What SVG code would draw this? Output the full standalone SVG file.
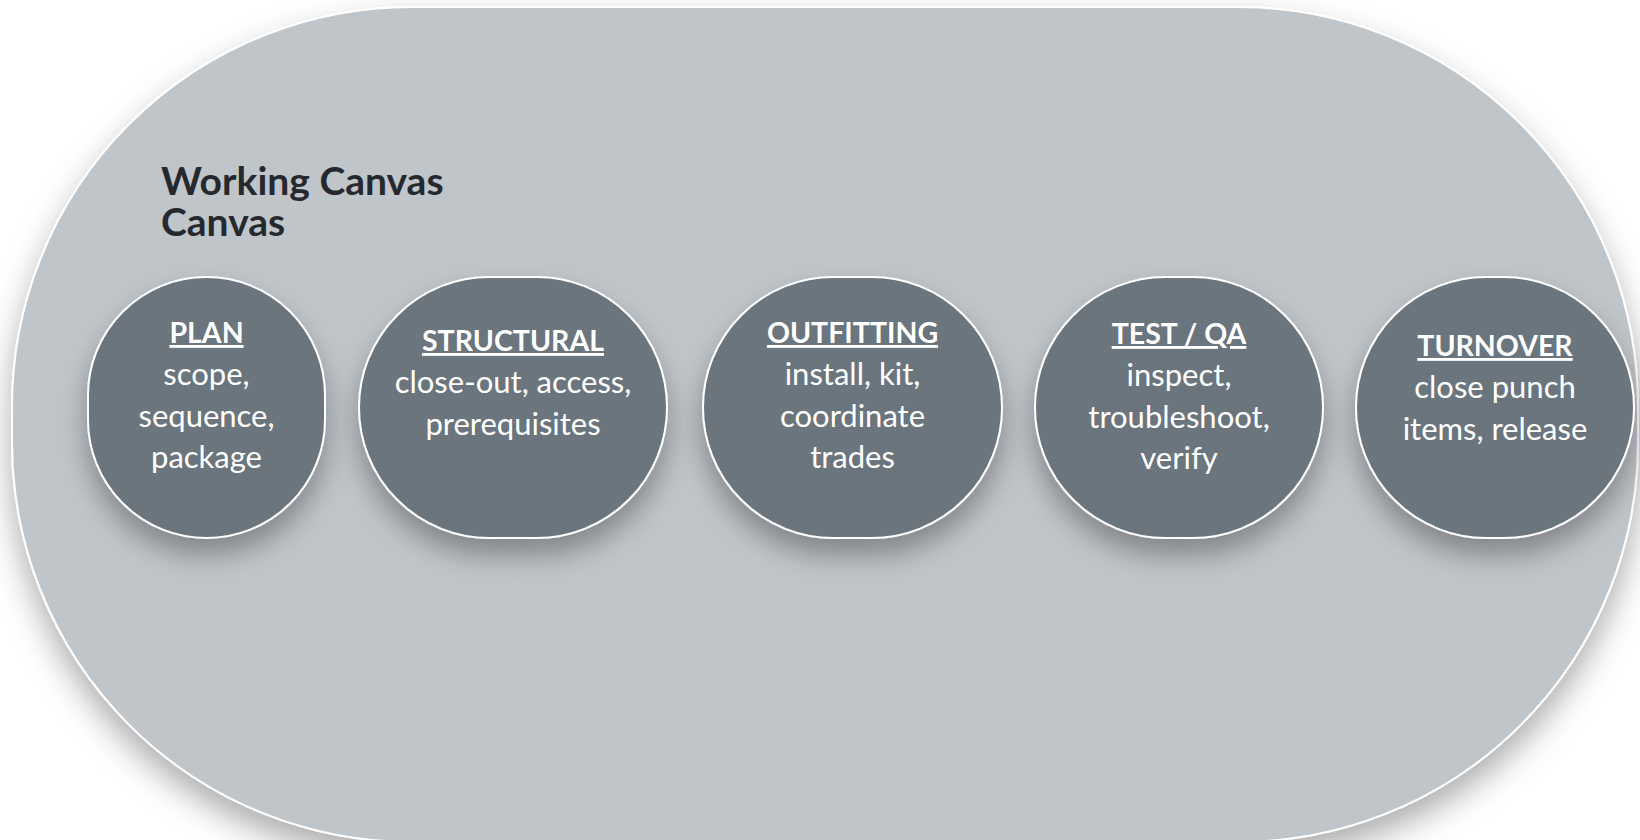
<svg xmlns="http://www.w3.org/2000/svg" width="1640" height="840" viewBox="0 0 1640 840">
  <defs>
    <filter id="bgShadow" x="-10%" y="-10%" width="120%" height="125%">
      <feDropShadow dx="0" dy="16" stdDeviation="16" flood-color="#000" flood-opacity="0.32"/>
    </filter>
    <filter id="nodeShadow" x="-25%" y="-25%" width="150%" height="160%">
      <feDropShadow dx="0" dy="16" stdDeviation="14" flood-color="#000" flood-opacity="0.32"/>
    </filter>
  </defs>
  <style>
    .canvas { fill: #c0c5ca; stroke: #ffffff; stroke-width: 2; }
    .node { fill: #6b747d; stroke: #ffffff; stroke-width: 2; }
    .title { font-family: "Lato", "Liberation Sans", sans-serif; font-weight: 700; font-size: 39px; fill: #25292d; }
    .head { font-family: "Lato", "Liberation Sans", sans-serif; font-weight: 700; font-size: 28.5px; fill: #ffffff; text-anchor: middle; text-decoration: underline; }
    .body { font-family: "Lato", "Liberation Sans", sans-serif; font-weight: 400; font-size: 31px; fill: #ffffff; text-anchor: middle; }
  </style>
  <rect width="1640" height="840" fill="#ffffff"/>
  <g id="canvas">
    <rect class="canvas" x="12" y="7" width="1626" height="835" rx="400" ry="400" filter="url(#bgShadow)"/>
    <text class="title" x="161" y="195">Working Canvas</text>
    <text class="title" x="161" y="236">Canvas</text>
  </g>
  <g id="connectors"></g>
  <g id="node-plan">
    <rect class="node" x="88" y="277" width="237" height="261" rx="118.5" ry="118.5" filter="url(#nodeShadow)"/>
    <text class="head" x="206.5" y="343">PLAN</text>
    <text class="body" x="206.5" y="385">scope,</text>
    <text class="body" x="206.5" y="427">sequence,</text>
    <text class="body" x="206.5" y="468">package</text>
  </g>
  <g id="node-structural">
    <rect class="node" x="359" y="277" width="308" height="261" rx="130.5" ry="130.5" filter="url(#nodeShadow)"/>
    <text class="head" x="513" y="351">STRUCTURAL</text>
    <text class="body" x="513" y="393">close-out, access,</text>
    <text class="body" x="513" y="435">prerequisites</text>
  </g>
  <g id="node-outfitting">
    <rect class="node" x="703" y="277" width="299" height="261" rx="130.5" ry="130.5" filter="url(#nodeShadow)"/>
    <text class="head" x="852.5" y="343">OUTFITTING</text>
    <text class="body" x="852.5" y="385">install, kit,</text>
    <text class="body" x="852.5" y="427">coordinate</text>
    <text class="body" x="852.5" y="468">trades</text>
  </g>
  <g id="node-testqa">
    <rect class="node" x="1035" y="277" width="288" height="261" rx="130.5" ry="130.5" filter="url(#nodeShadow)"/>
    <text class="head" x="1179" y="344">TEST / QA</text>
    <text class="body" x="1179" y="386">inspect,</text>
    <text class="body" x="1179" y="428">troubleshoot,</text>
    <text class="body" x="1179" y="469">verify</text>
  </g>
  <g id="node-turnover">
    <rect class="node" x="1356" y="277" width="278" height="261" rx="130.5" ry="130.5" filter="url(#nodeShadow)"/>
    <text class="head" x="1495" y="356">TURNOVER</text>
    <text class="body" x="1495" y="398">close punch</text>
    <text class="body" x="1495" y="440">items, release</text>
  </g>
</svg>
